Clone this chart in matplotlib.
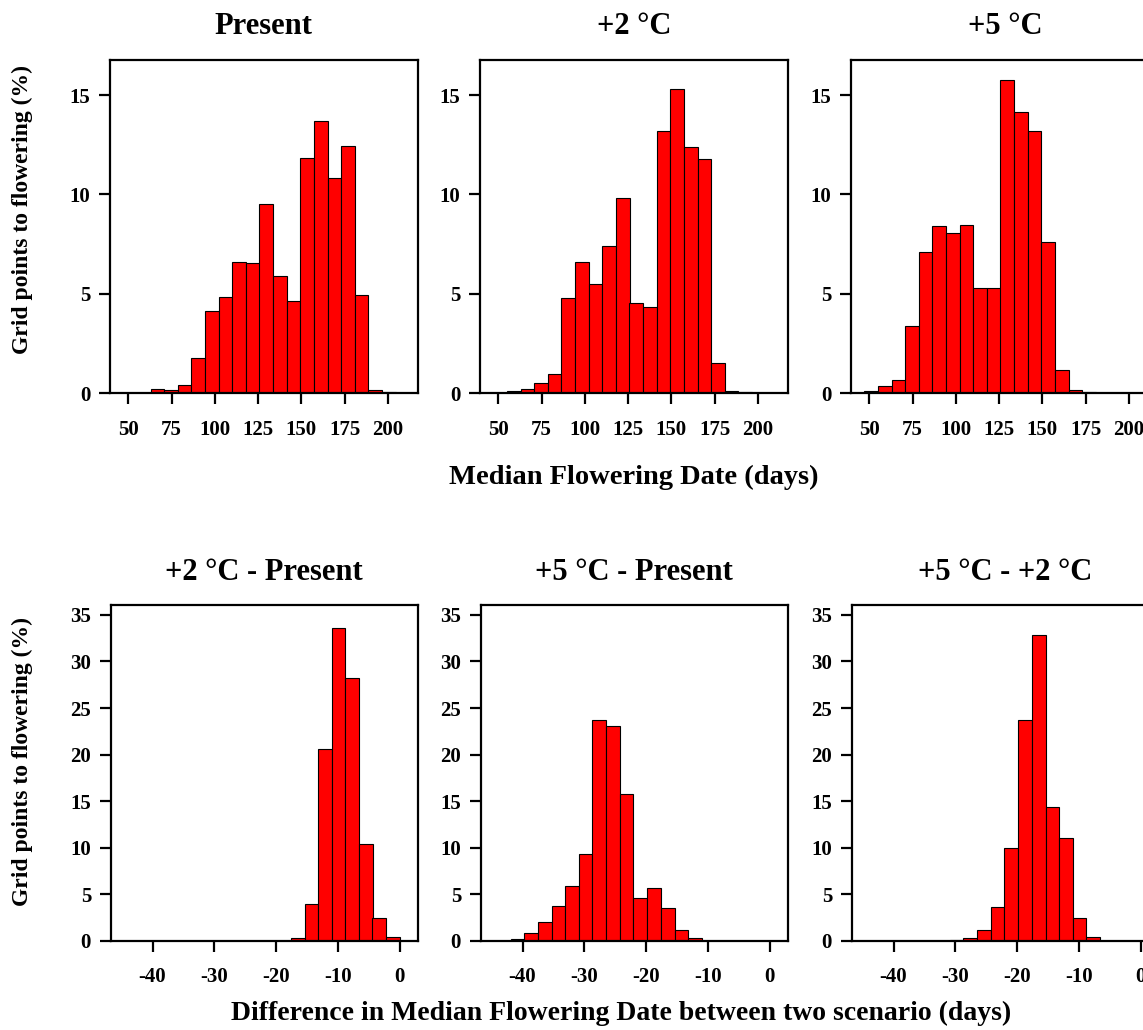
import matplotlib
matplotlib.use("Agg")
import matplotlib.pyplot as plt

#DATA------------------------------------------------------------------------------------------------
# bin left edges (days) for the median flowering date histograms, bin width 7.87 days
date_bins = [47.1, 55.0, 62.9, 70.7, 78.6, 86.5, 94.3, 102.2, 110.1, 118.0,
             125.8, 133.7, 141.6, 149.4, 157.3, 165.2, 173.1, 180.9, 188.8, 196.7]
date_width = 7.87

present = [0, 0, 0.2, 0.15, 0.42, 1.79, 4.15, 4.86, 6.6, 6.57,
           9.51, 5.9, 4.62, 11.84, 13.67, 10.84, 12.46, 4.92, 0.15, 0.08]
plus2 = [0, 0.13, 0.22, 0.5, 0.96, 4.77, 6.6, 5.49, 7.42, 9.82,
         4.53, 4.33, 13.17, 15.32, 12.4, 11.78, 1.51, 0.12, 0.08, 0]
plus5 = [0.13, 0.35, 0.67, 3.39, 7.09, 8.4, 8.07, 8.47, 5.28, 5.28,
         15.75, 14.17, 13.21, 7.63, 1.18, 0.17, 0.08, 0, 0, 0]

# bin left edges (days) for the differences, bin width 2.205 days
diff_bins = [-44.1, -41.9, -39.7, -37.5, -35.3, -33.1, -30.9, -28.7, -26.5, -24.3,
             -22.1, -19.8, -17.6, -15.4, -13.2, -11.0, -8.8, -6.6, -4.4, -2.2]
diff_width = 2.205

d2_present = [0, 0, 0, 0, 0, 0, 0, 0, 0, 0,
              0, 0, 0.32, 3.9, 20.6, 33.6, 28.2, 10.4, 2.4, 0.4]
d5_present = [0, 0.2, 0.86, 2.04, 3.76, 5.91, 9.28, 23.7, 23.1, 15.8,
              4.55, 5.7, 3.48, 1.15, 0.32, 0, 0, 0, 0, 0]
d5_d2 = [0, 0, 0, 0, 0, 0, 0.05, 0.32, 1.15, 3.66,
         9.93, 23.7, 32.8, 14.4, 11.0, 2.4, 0.43, 0, 0, 0]

top_titles = ['Present', '+2 °C', '+5 °C']
bottom_titles = ['+2 °C - Present', '+5 °C - Present', '+5 °C - +2 °C']
top_xticks = [50, 75, 100, 125, 150, 175, 200]
bottom_xticks = [-40, -30, -20, -10, 0]
top_yticks = [0, 5, 10, 15]
bottom_yticks = [0, 5, 10, 15, 20, 25, 30, 35]
#-----------------------------------------------------------------------------------------------------

plt.rcParams['font.family'] = ['Liberation Serif', 'DejaVu Serif']
plt.rcParams['font.weight'] = 'bold'
plt.rcParams['axes.unicode_minus'] = False  # plain hyphen like the original

W, H = 1143, 1030
fig = plt.figure(figsize=(W/100, H/100), dpi=100)

def px_axes(x0, ytop, w, h):
    return fig.add_axes([x0/W, 1 - (ytop + h)/H, w/W, h/H])

def style(ax, xticks, yticks, xlim, ylim, title, tpad):
    ax.set_xlim(xlim)
    ax.set_ylim(ylim)
    ax.set_xticks(xticks)
    ax.set_yticks(yticks)
    for s in ax.spines.values():
        s.set_linewidth(1.6)
    ax.tick_params(direction='out', length=8, width=1.6, labelsize=15, top=False, right=False)
    ax.tick_params(axis='x', pad=11)
    ax.tick_params(axis='y', pad=6)
    for lab in ax.get_xticklabels() + ax.get_yticklabels():
        lab.set_fontweight('bold')
    ax.set_title(title, fontsize=22, fontweight='bold', pad=tpad)

top_data = [present, plus2, plus5]
bottom_data = [d2_present, d5_present, d5_d2]
lefts = [110, 480, 851]

for i in range(3):
    ax = px_axes(lefts[i], 60, 307.7, 333.3)
    ax.bar(date_bins, top_data[i], width=date_width, align='edge',
           color='#ff0000', edgecolor='black', linewidth=0.8)
    style(ax, top_xticks, top_yticks, (39.4, 217.3), (0, 16.76), top_titles[i], 19)

for i in range(3):
    ax = px_axes(lefts[i] + 0.5, 605, 307.7, 335.7)
    ax.bar(diff_bins, bottom_data[i], width=diff_width, align='edge',
           color='#ff0000', edgecolor='black', linewidth=0.8)
    style(ax, bottom_xticks, bottom_yticks, (-46.8, 3.0), (0, 36.07), bottom_titles[i], 18)

fig.text(634/W, 1 - 477/H, 'Median Flowering Date (days)', ha='center', va='center',
         fontsize=20.5, fontweight='bold')
fig.text(621/W, 1 - 1013/H, 'Difference in Median Flowering Date between two scenario (days)',
         ha='center', va='center', fontsize=20, fontweight='bold')
fig.text(22/W, 1 - 210/H, 'Grid points to flowering (%)', rotation=90, ha='center', va='center',
         fontsize=17, fontweight='bold')
fig.text(22/W, 1 - 761/H, 'Grid points to flowering (%)', rotation=90, ha='center', va='center',
         fontsize=17, fontweight='bold')

fig.savefig('out.png', dpi=100)
